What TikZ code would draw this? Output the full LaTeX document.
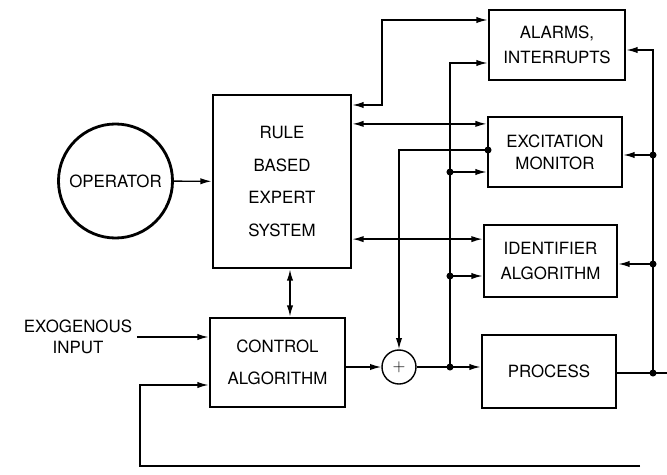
\documentclass[tikz,border=0pt]{standalone}
\usepackage{fontspec}
\setmainfont{TeX Gyre Heros}
\usetikzlibrary{arrows.meta}
\tikzset{
  blk/.style={draw, line width=2pt, align=center, inner sep=0pt},
  conn/.style={line width=1pt, -{Latex[length=8pt,width=4.5pt]}},
  biconn/.style={line width=1pt, {Latex[length=8pt,width=4.5pt]}-{Latex[length=8pt,width=4.5pt]}},
  jdot/.style={circle, fill, inner sep=0pt, minimum size=5pt},
}
\begin{document}
\begin{tikzpicture}[x=0.025cm, y=-0.025cm, font=\fontsize{12}{15}\selectfont]
  \useasboundingbox (0,0) rectangle (667,475);
  % blocks
  \node[draw, circle, line width=2pt, minimum size=2.85cm, inner sep=0pt] (op) at (115.5,181) {OPERATOR};
  \node[blk, minimum width=3.45cm, minimum height=4.325cm, font=\fontsize{12}{23.2}\selectfont] (rbes) at (282,181.5) {RULE\\BASED\\EXPERT\\SYSTEM};
  \node[blk, minimum width=3.375cm, minimum height=2.225cm, font=\fontsize{12}{22.7}\selectfont] (ctrl) at (277.5,362.5) {CONTROL\\ALGORITHM};
  \node[blk, minimum width=3.4cm, minimum height=1.75cm, font=\fontsize{12}{17.7}\selectfont] (alarm) at (557,45) {ALARMS,\\INTERRUPTS};
  \node[blk, minimum width=3.35cm, minimum height=1.75cm, font=\fontsize{12}{15.6}\selectfont] (excit) at (555,152) {EXCITATION\\MONITOR};
  \node[blk, minimum width=3.325cm, minimum height=1.8cm, font=\fontsize{12}{17.7}\selectfont] (ident) at (550.5,261) {IDENTIFIER\\ALGORITHM};
  \node[blk, minimum width=3.35cm, minimum height=1.825cm] (proc) at (549,371.5) {PROCESS};
  \node[draw, circle, line width=1pt, minimum size=0.85cm, inner sep=0pt] (sum) at (399,367) {$+$};
  \node[align=center] (exo) at (78,337) {EXOGENOUS\\INPUT};
  % junctions and corners
  \coordinate (j1) at (450,367);
  \coordinate (j2) at (450,172);
  \coordinate (j3) at (450,276);
  \coordinate (j4) at (653,373);
  \coordinate (j5) at (653,155);
  \coordinate (j6) at (653,264);
  \coordinate (j7) at (488,150);
  \coordinate (c1) at (450,63);
  \coordinate (c2) at (653,50);
  \coordinate (c3) at (399,150);
  \coordinate (c4) at (382,105);
  \coordinate (c5) at (382,20);
  \coordinate (c6) at (140,385);
  \coordinate (pend) at (667,373);
  \coordinate (fbend) at (640,466);
  \coordinate (fbl) at (140,466);
  % connectors
  \draw[conn] (op) -- (rbes);
  \draw[biconn] ([xshift=0.2cm]rbes.south) -- ([xshift=0.2cm]rbes.south |- ctrl.north);
  \draw[conn] (exo.east) -- (exo.east -| ctrl.west);
  \draw[conn] (ctrl.east |- sum) -- (sum);
  \draw[conn] (sum) -- (sum -| proc.west);
  \draw[conn] (j1) -- (c1) -- (c1 -| alarm.west);
  \draw[conn] (j2) -- (j2 -| excit.west);
  \draw[conn] (j3) -- (j3 -| ident.west);
  \draw[line width=1pt] (proc.east |- j4) -- (pend);
  \draw[conn] (j4) -- (c2) -- (c2 -| alarm.east);
  \draw[conn] (j5) -- (j5 -| excit.east);
  \draw[conn] (j6) -- (j6 -| ident.east);
  \draw[conn] (j7) -- (c3) -- (sum);
  \draw[biconn] (c4 -| rbes.east) -- (c4) -- (c5) -- (c5 -| alarm.west);
  \draw[biconn] ([yshift=1.44cm]rbes.east) -- ([yshift=1.44cm]rbes.east -| excit.west);
  \draw[biconn] ([yshift=-1.44cm]rbes.east) -- ([yshift=-1.44cm]rbes.east -| ident.west);
  \draw[conn] (fbend) -- (fbl) -- (c6) -- (c6 -| ctrl.west);
  \foreach \j in {j1,j2,j3,j4,j5,j6,j7} \node[jdot] at (\j) {};
\end{tikzpicture}
\end{document}
